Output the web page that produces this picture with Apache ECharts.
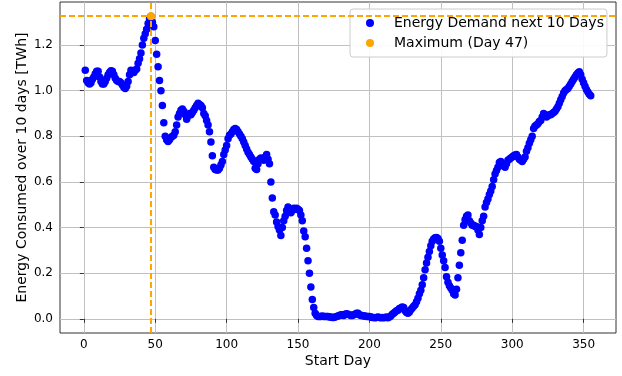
<!DOCTYPE html>
<html>
<head>
<meta charset="utf-8">
<script src="https://cdn.jsdelivr.net/npm/echarts@6/dist/echarts.min.js"></script>
<style>
    html, body { margin: 0; padding: 0; background: #fff; }
    #chart { width: 622px; height: 376px; }
</style>
</head>
<body>
<div id="chart"></div>
<script>
// energy consumed over the next 10 days, one value per start day (1..355)
var energy = [
    1.09, 1.045, 1.035, 1.03, 1.035, 1.05, 1.06, 1.075, 1.085, 1.085,
    1.06, 1.04, 1.03, 1.03, 1.04, 1.055, 1.07, 1.08, 1.088, 1.085,
    1.07, 1.055, 1.045, 1.04, 1.04, 1.035, 1.025, 1.015, 1.01, 1.02,
    1.04, 1.07, 1.09, 1.085, 1.08, 1.09, 1.095, 1.12, 1.14, 1.165,
    1.2, 1.23, 1.25, 1.27, 1.295, 1.315, 1.326, 1.3, 1.28, 1.22,
    1.16, 1.105, 1.045, 1.0, 0.935, 0.86, 0.8, 0.785, 0.778, 0.785,
    0.795, 0.8, 0.805, 0.82, 0.85, 0.885, 0.9, 0.915, 0.92, 0.91,
    0.895, 0.875, 0.89, 0.9, 0.895, 0.905, 0.915, 0.925, 0.935, 0.945,
    0.94, 0.935, 0.925, 0.9, 0.89, 0.87, 0.85, 0.82, 0.775, 0.715,
    0.665, 0.655, 0.652, 0.652, 0.66, 0.675, 0.69, 0.72, 0.74, 0.76,
    0.79, 0.805, 0.81, 0.82, 0.83, 0.835, 0.83, 0.82, 0.81, 0.8,
    0.79, 0.775, 0.76, 0.745, 0.73, 0.72, 0.71, 0.7, 0.69, 0.66,
    0.655, 0.68, 0.7, 0.705, 0.7, 0.695, 0.71, 0.72, 0.7, 0.68,
    0.6, 0.53, 0.47, 0.455, 0.425, 0.405, 0.39, 0.365, 0.4, 0.43,
    0.45, 0.475, 0.49, 0.475, 0.465, 0.475, 0.485, 0.48, 0.485, 0.48,
    0.475, 0.455, 0.43, 0.385, 0.36, 0.31, 0.255, 0.2, 0.14, 0.085,
    0.05, 0.025, 0.015, 0.01, 0.01, 0.01, 0.012, 0.01, 0.01, 0.01,
    0.01, 0.008, 0.008, 0.006, 0.006, 0.008, 0.01, 0.012, 0.015, 0.018,
    0.018, 0.015, 0.02, 0.022, 0.02, 0.018, 0.015, 0.015, 0.018, 0.02,
    0.025, 0.025, 0.018, 0.015, 0.015, 0.012, 0.012, 0.01, 0.01, 0.01,
    0.008, 0.006, 0.006, 0.005, 0.006, 0.008, 0.006, 0.005, 0.006, 0.005,
    0.006, 0.008, 0.005, 0.008, 0.012, 0.02, 0.025, 0.03, 0.035, 0.038,
    0.045, 0.048, 0.052, 0.05, 0.035, 0.028, 0.025, 0.03, 0.04, 0.048,
    0.055, 0.062, 0.075, 0.09, 0.11, 0.125, 0.15, 0.18, 0.215, 0.245,
    0.27, 0.295, 0.32, 0.34, 0.35, 0.355, 0.357, 0.352, 0.34, 0.31,
    0.28, 0.255, 0.225, 0.185, 0.16, 0.145, 0.135, 0.125, 0.11, 0.105,
    0.13, 0.18, 0.235, 0.29, 0.345, 0.41, 0.435, 0.45, 0.455, 0.43,
    0.42, 0.41, 0.41, 0.405, 0.405, 0.39, 0.37, 0.4, 0.43, 0.45,
    0.49, 0.51, 0.525, 0.545, 0.56, 0.58, 0.61, 0.635, 0.65, 0.665,
    0.685, 0.69, 0.675, 0.67, 0.665, 0.68, 0.695, 0.7, 0.705, 0.71,
    0.715, 0.718, 0.72, 0.71, 0.7, 0.695, 0.69, 0.7, 0.71, 0.735,
    0.75, 0.77, 0.785, 0.8, 0.835, 0.845, 0.85, 0.855, 0.865, 0.87,
    0.885, 0.9, 0.895, 0.885, 0.89, 0.895, 0.895, 0.9, 0.905, 0.91,
    0.92, 0.93, 0.945, 0.96, 0.975, 0.99, 1.0, 1.005, 1.01, 1.02,
    1.03, 1.04, 1.05, 1.06, 1.07, 1.078, 1.083, 1.07, 1.05, 1.035,
    1.02, 1.005, 0.995, 0.985, 0.978
]
var firstDay = 1
var maxDay = 47
var maxValue = 1.326

var xTicks = [0, 50, 100, 150, 200, 250, 300, 350]
var yTicks = [0, 0.2, 0.4, 0.6, 0.8, 1.0, 1.2]

var seriesName = 'Energy Demand next 10 Days'
var maxName = 'Maximum (Day 47)'

// [day, value] pairs for the scatter
var points = []
for (var i = 0; i < energy.length; i++) {
    points.push([firstDay + i, energy[i]])
}

var font = 'DejaVu Sans'
var chart = echarts.init(document.getElementById('chart'), null, { renderer: 'canvas' })

var option = {
    animation: false,
    backgroundColor: '#ffffff',
    grid: {
        left: 60,
        right: 6,
        top: 2,
        bottom: 43,
        show: true,
        borderColor: '#333',
        borderWidth: 1,
        backgroundColor: 'transparent'
    },
    legend: {
        orient: 'vertical',
        left: 350,
        top: 9,
        padding: [7, 3, 7, 16],
        itemWidth: 8,
        itemHeight: 8,
        itemGap: 6,
        backgroundColor: 'rgba(255,255,255,0.92)',
        borderColor: '#cccccc',
        borderWidth: 1,
        borderRadius: 3,
        icon: 'circle',
        textStyle: { fontFamily: font, fontSize: 14, color: '#000', padding: [0, 0, 0, 15] },
        data: [seriesName, maxName]
    },
    xAxis: {
        type: 'value',
        min: -16.7,
        max: 372.7,
        name: 'Start Day',
        nameLocation: 'middle',
        nameGap: 21,
        nameMoveOverlap: false,
        nameTextStyle: { fontFamily: font, fontSize: 14, color: '#000' },
        axisLine: { show: false },
        axisTick: {
            show: true,
            length: 4,
            customValues: xTicks,
            lineStyle: { color: '#333' }
        },
        axisLabel: {
            customValues: xTicks,
            margin: 6,
            fontFamily: font,
            fontSize: 12,
            color: '#000'
        },
        splitLine: { show: true, lineStyle: { color: '#c0c0c0', width: 1 } }
    },
    yAxis: {
        type: 'value',
        min: -0.062,
        max: 1.389,
        name: 'Energy Consumed over 10 days [TWh]',
        nameLocation: 'middle',
        nameGap: 31,
        nameMoveOverlap: false,
        nameTextStyle: { fontFamily: font, fontSize: 14, color: '#000' },
        axisLine: { show: false },
        axisTick: {
            show: true,
            length: 4,
            customValues: yTicks,
            lineStyle: { color: '#333' }
        },
        axisLabel: {
            customValues: yTicks,
            margin: 7,
            fontFamily: font,
            fontSize: 12,
            color: '#000',
            formatter: function (v) { return v.toFixed(1) }
        },
        splitLine: { show: true, lineStyle: { color: '#c0c0c0', width: 1 } }
    },
    series: [
        {
            name: seriesName,
            type: 'scatter',
            symbol: 'circle',
            symbolSize: 7.5,
            itemStyle: { color: '#0000ff', opacity: 1 },
            data: points
        },
        {
            name: maxName,
            type: 'scatter',
            symbol: 'circle',
            symbolSize: 8,
            itemStyle: { color: '#ffa500', opacity: 1 },
            data: [[maxDay, maxValue]],
            // dashed guide lines through the maximum
            markLine: {
                silent: true,
                symbol: ['none', 'none'],
                label: { show: false },
                lineStyle: { color: '#ffa500', width: 2, type: [6, 3] },
                data: [{ xAxis: maxDay }, { yAxis: maxValue }]
            }
        }
    ]
}

chart.setOption(option)
</script>
</body>
</html>
